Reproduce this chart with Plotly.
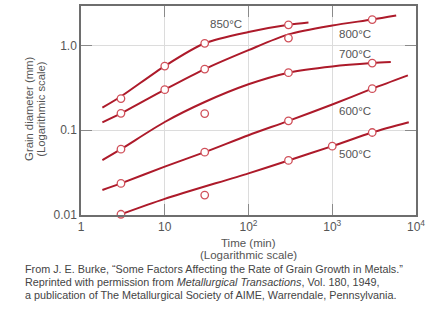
import math
import plotly.graph_objects as go

# Annealing temperatures
temps = ["850°C", "800°C", "700°C", "600°C", "500°C"]

# Measured grain diameters (mm) vs time (min)
t_850 = [3, 10, 30, 300]
d_850 = [0.236, 0.571, 1.06, 1.75]
t_800 = [3, 10, 30, 300, 3000]
d_800 = [0.158, 0.301, 0.526, 1.22, 2.02]
t_700 = [3, 30, 300, 3000]
d_700 = [0.0598, 0.157, 0.477, 0.619]
t_600 = [3, 30, 300, 3000]
d_600 = [0.0236, 0.0551, 0.129, 0.309]
t_500 = [3, 30, 300, 1000, 3000]
d_500 = [0.0102, 0.0172, 0.044, 0.0649, 0.094]

# Hand-drawn trend curves through the data
ct_850 = [1.8, 3, 10, 30, 100, 300, 520]
cd_850 = [0.185, 0.25, 0.571, 1.06, 1.44, 1.75, 1.86]
ct_800 = [1.8, 3, 10, 30, 100, 300, 1000, 3000, 5800]
cd_800 = [0.124, 0.158, 0.301, 0.526, 0.88, 1.35, 1.72, 2.02, 2.25]
ct_700 = [1.8, 3, 10, 30, 100, 300, 1000, 3000, 5000]
cd_700 = [0.0444, 0.0598, 0.125, 0.215, 0.348, 0.477, 0.565, 0.619, 0.636]
ct_600 = [1.8, 3, 10, 30, 100, 300, 1000, 3000, 8000]
cd_600 = [0.0197, 0.0236, 0.0372, 0.0551, 0.0873, 0.129, 0.201, 0.309, 0.444]
ct_500 = [3, 10, 100, 300, 1000, 3000, 8200]
cd_500 = [0.0102, 0.0155, 0.031, 0.044, 0.0649, 0.094, 0.124]

# Label anchor positions (data coords)
label_t = [33, 1130, 1130, 1130, 1130]
label_d = [1.77, 1.35, 0.784, 0.167, 0.0522]

x_tickvals = [1, 10, 100, 1000, 10000]
x_ticktext = ["1", "10", "10<sup>2</sup>", "10<sup>3</sup>", "10<sup>4</sup>"]
y_tickvals = [0.01, 0.1, 1.0]
y_ticktext = ["0.01", "0.1", "1.0"]

LINE = "#ad1a2a"
MARK = "#d0505a"
TXT = "#555555"
FONT = "Liberation Sans, Arial, sans-serif"

points = [(t_850, d_850), (t_800, d_800), (t_700, d_700), (t_600, d_600), (t_500, d_500)]
curves = [(ct_850, cd_850), (ct_800, cd_800), (ct_700, cd_700), (ct_600, cd_600), (ct_500, cd_500)]

fig = go.Figure()
for (ct, cd) in curves:
    fig.add_trace(go.Scatter(x=ct, y=cd, mode="lines",
                             line=dict(color=LINE, width=2, shape="spline", smoothing=0.8),
                             hoverinfo="skip", showlegend=False))
for (t, d), name in zip(points, temps):
    fig.add_trace(go.Scatter(x=t, y=d, mode="markers", name=name,
                             marker=dict(symbol="circle", size=7.5, color="white",
                                         line=dict(color=MARK, width=1.3)),
                             cliponaxis=False, showlegend=False))

# Temperature labels (log axes take log10 positions for annotations)
for name, lt, ld in zip(temps, label_t, label_d):
    fig.add_annotation(x=math.log10(lt), y=math.log10(ld), xref="x", yref="y", text=name,
                       showarrow=False, xanchor="left", yanchor="middle",
                       font=dict(family=FONT, size=11.5, color=TXT))

L, R, T, B = 80.5, 22.5, 5.5, 107
W, H = 439, 322
pw, ph = W - L - R, H - T - B


def px_x(px):
    return (px - L) / pw


def px_y(py):
    return (H - B - py) / ph


# Axis titles
fig.add_annotation(xref="paper", yref="paper", x=px_x(249), y=px_y(243), text="Time (min)",
                   showarrow=False, xanchor="center", yanchor="middle",
                   font=dict(family=FONT, size=11.5, color=TXT))
fig.add_annotation(xref="paper", yref="paper", x=px_x(249), y=px_y(255), text="(Logarithmic scale)",
                   showarrow=False, xanchor="center", yanchor="middle",
                   font=dict(family=FONT, size=11.5, color=TXT))
fig.add_annotation(xref="paper", yref="paper", x=px_x(29), y=px_y(109), text="Grain diameter (mm)",
                   showarrow=False, textangle=-90, xanchor="center", yanchor="middle",
                   font=dict(family=FONT, size=11.3, color=TXT))
fig.add_annotation(xref="paper", yref="paper", x=px_x(41), y=px_y(109), text="(Logarithmic scale)",
                   showarrow=False, textangle=-90, xanchor="center", yanchor="middle",
                   font=dict(family=FONT, size=11.3, color=TXT))

# Source credit
caption = [
    "From J. E. Burke, “Some Factors Affecting the Rate of Grain Growth in Metals.”",
    "Reprinted with permission from <i>Metallurgical Transactions</i>, Vol. 180, 1949,",
    "a publication of The Metallurgical Society of AIME, Warrendale, Pennsylvania.",
]
for i, line in enumerate(caption):
    fig.add_annotation(xref="paper", yref="paper", x=px_x(22), y=px_y(269 + 13 * i), text=line,
                       showarrow=False, xanchor="left", yanchor="middle",
                       font=dict(family=FONT, size=10.8, color="#444444"))

axis_common = dict(
    type="log", showline=True, linecolor="#6e6e6e", linewidth=1.5, mirror="ticks",
    ticks="inside", ticklen=11, tickcolor="#8a8a8a", tickwidth=1.2,
    showgrid=True, gridcolor="#dcdcdc", gridwidth=1.2, zeroline=False,
    tickfont=dict(family=FONT, size=12, color=TXT),
)
fig.update_xaxes(range=[0, 4], tickvals=x_tickvals, ticktext=x_ticktext, **axis_common)
fig.update_yaxes(range=[-2, 0.465], tickvals=y_tickvals, ticktext=y_ticktext, **axis_common)

fig.update_layout(
    width=W, height=H,
    margin=dict(l=L, r=R, t=T, b=B, pad=0),
    paper_bgcolor="white", plot_bgcolor="white",
    showlegend=False,
)

fig.write_html("out.html")
